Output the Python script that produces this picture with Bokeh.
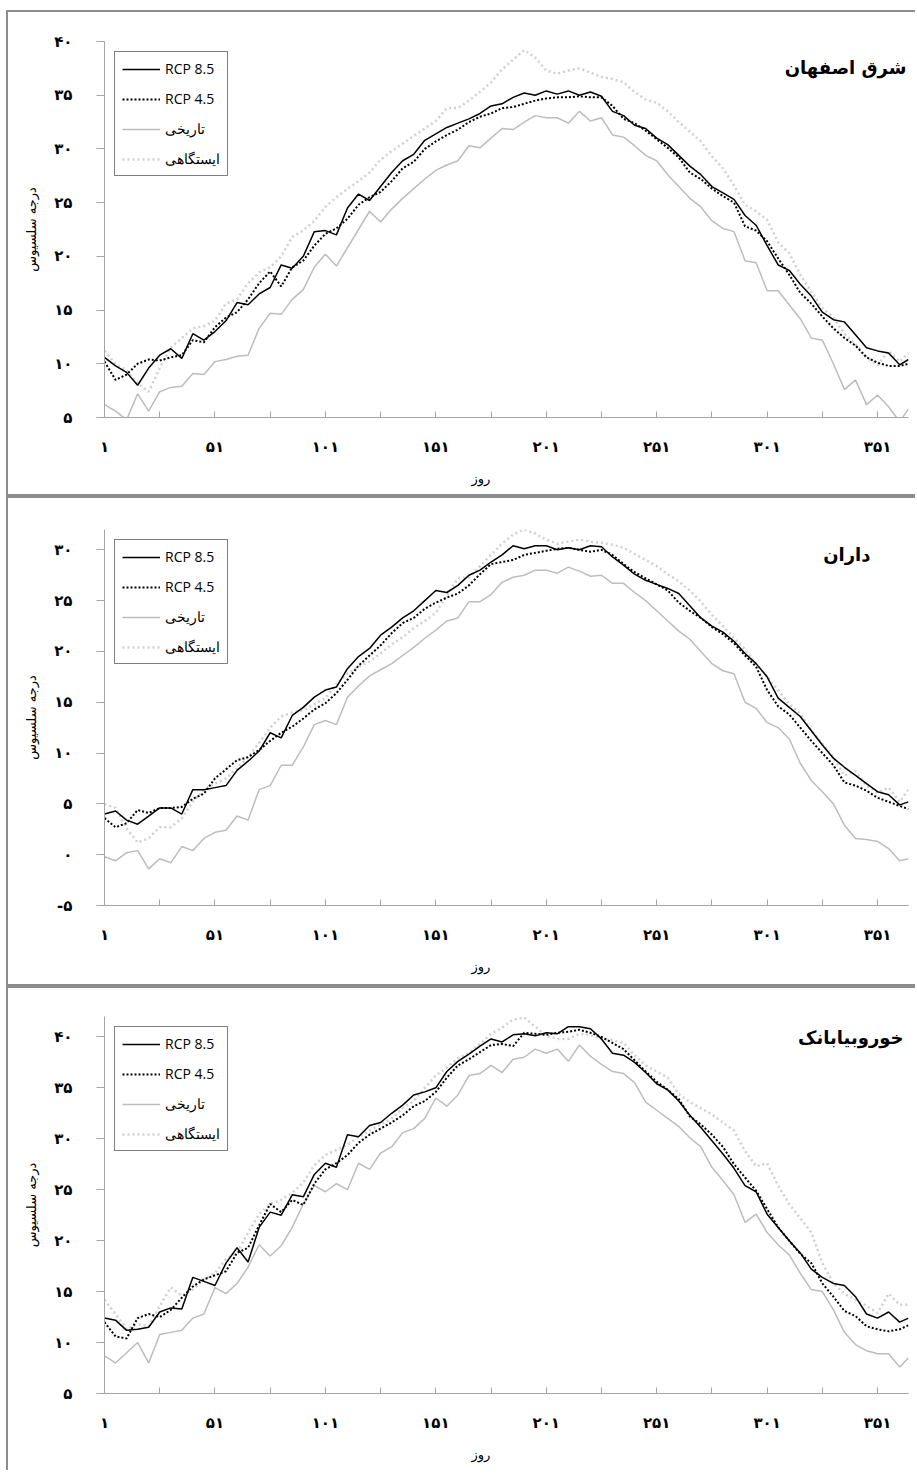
from bokeh.plotting import figure
from bokeh.layouts import column, row
from bokeh.models import (FixedTicker, Legend, LegendItem, Label, Title, Spacer)
from bokeh.embed import file_html
from bokeh.resources import INLINE

# ---------------- data ----------------
days = [1, 6, 11, 16, 21, 26, 31, 36, 41, 46, 51, 56, 61, 66, 71, 76, 81, 86, 91, 96,
        101, 106, 111, 116, 121, 126, 131, 136, 141, 146, 151, 156, 161, 166, 171, 176,
        181, 186, 191, 196, 201, 206, 211, 216, 221, 226, 231, 236, 241, 246, 251, 256,
        261, 266, 271, 276, 281, 286, 291, 296, 301, 306, 311, 316, 321, 326, 331, 336,
        341, 346, 351, 356, 361, 365]

series_names = ["RCP 8.5", "RCP 4.5", "تاریخی", "ایستگاهی"]
station_names = ["شرق اصفهان", "داران", "خوروبیابانک"]

# --- شرق اصفهان ---
isf_rcp85 = [10.6, 9.8, 9.2, 8.0, 9.6, 10.8, 11.4, 10.5, 12.8, 12.2, 13.0, 14.0, 15.7, 15.5, 16.5,
             17.1, 19.2, 18.9, 20.0, 22.3, 22.4, 22.0, 24.5, 25.8, 25.2, 26.5, 27.8, 28.9, 29.5,
             30.8, 31.4, 32.0, 32.4, 32.8, 33.3, 34.0, 34.2, 34.8, 35.2, 35.0, 35.4, 35.1, 35.4,
             35.0, 35.3, 34.9, 33.5, 33.1, 32.2, 31.9, 31.0, 30.4, 29.4, 28.4, 27.6, 26.5, 25.9,
             25.3, 23.8, 22.9, 21.0, 19.2, 18.7, 17.4, 16.3, 14.8, 14.1, 13.9, 12.7, 11.5, 11.2,
             11.0, 9.9, 10.4]
isf_rcp45 = [10.2, 8.5, 9.0, 10.0, 10.4, 10.3, 10.6, 10.8, 12.2, 12.0, 13.4, 14.3, 14.8, 16.0, 17.5,
             18.6, 17.2, 19.0, 19.6, 21.0, 22.1, 22.6, 23.5, 24.8, 25.5, 26.0, 27.0, 28.2, 28.8,
             30.0, 30.7, 31.3, 31.8, 32.5, 33.0, 33.3, 33.8, 33.9, 34.2, 34.5, 34.7, 34.8, 34.8,
             34.9, 34.8, 34.8, 34.0, 32.8, 32.4, 31.7, 30.9, 30.1, 29.2, 27.8, 27.2, 26.3, 25.6,
             25.0, 22.8, 22.4, 21.4, 19.8, 18.3, 16.6, 15.6, 14.4, 13.3, 12.4, 11.7, 10.6, 10.1,
             9.8, 9.8, 10.0]
isf_hist = [6.2, 5.6, 4.8, 7.2, 5.6, 7.4, 7.8, 7.9, 9.1, 9.0, 10.2, 10.4, 10.7, 10.8, 13.3, 14.7,
            14.6, 16.0, 16.9, 19.0, 20.2, 19.1, 20.8, 22.5, 24.2, 23.2, 24.4, 25.4, 26.3, 27.2,
            28.0, 28.5, 28.9, 30.3, 30.1, 31.0, 31.9, 31.8, 32.5, 33.1, 32.9, 32.9, 32.4, 33.5,
            32.6, 32.9, 31.3, 31.1, 30.3, 29.4, 28.9, 27.6, 26.5, 25.4, 24.6, 23.3, 22.6, 22.3,
            19.6, 19.4, 16.8, 16.8, 15.5, 14.2, 12.4, 12.2, 10.0, 7.6, 8.5, 6.2, 7.1, 6.0, 4.6, 5.8]
isf_obs = [11.2, 10.0, 9.4, 8.2, 7.4, 9.6, 11.5, 12.4, 13.3, 13.5, 14.0, 15.6, 16.0, 17.5, 18.5,
           19.0, 20.0, 21.8, 22.4, 23.3, 24.6, 25.5, 26.3, 27.0, 27.8, 29.0, 29.8, 30.5, 31.2,
           31.9, 32.6, 33.8, 33.8, 34.5, 35.3, 36.2, 37.4, 38.3, 39.2, 38.5, 37.3, 37.0, 37.3,
           37.5, 37.1, 36.7, 36.5, 36.2, 35.3, 34.6, 34.3, 33.5, 32.5, 31.6, 30.7, 29.3, 28.2,
           26.6, 24.8, 24.2, 23.4, 21.3, 20.3, 18.3, 16.7, 15.2, 14.3, 12.8, 11.8, 10.6, 9.9,
           11.2, 10.2, 11.0]

# --- داران ---
dar_rcp85 = [4.0, 4.3, 3.4, 3.0, 3.8, 4.6, 4.6, 4.0, 6.4, 6.4, 6.6, 6.8, 8.3, 9.2, 10.2, 12.0,
             11.5, 13.7, 14.5, 15.5, 16.2, 16.5, 18.3, 19.5, 20.3, 21.6, 22.4, 23.3, 24.0, 25.0,
             26.0, 25.8, 26.5, 27.5, 28.0, 28.8, 29.5, 30.4, 30.1, 30.4, 30.4, 30.0, 30.2, 30.0,
             30.4, 30.3, 29.3, 28.5, 27.6, 27.0, 26.6, 26.2, 25.7, 24.5, 23.3, 22.5, 21.9, 21.0,
             19.8, 18.8, 17.5, 15.4, 14.5, 13.6, 12.2, 10.8, 9.5, 8.6, 7.8, 7.0, 6.2, 5.9, 4.9, 5.2]
dar_rcp45 = [3.6, 2.7, 3.1, 4.4, 4.1, 4.6, 4.6, 4.7, 5.5, 6.0, 7.5, 8.4, 9.3, 9.6, 10.3, 11.2,
             12.0, 12.6, 13.4, 14.3, 14.9, 15.9, 17.2, 18.6, 19.6, 20.6, 21.8, 22.8, 23.3, 24.2,
             24.8, 25.3, 25.7, 26.5, 27.6, 28.6, 28.8, 29.0, 29.5, 29.7, 29.9, 30.1, 30.2, 30.0,
             29.8, 30.0, 29.5, 28.6, 27.8, 27.2, 26.6, 26.0, 24.8, 24.0, 23.3, 22.4, 21.7, 20.8,
             19.6, 18.5, 16.2, 14.6, 13.8, 12.5, 11.2, 10.0, 8.8, 7.1, 6.8, 6.3, 5.6, 5.2, 4.8, 4.5]
dar_hist = [-0.2, -0.6, 0.2, 0.4, -1.4, -0.4, -0.8, 0.8, 0.4, 1.6, 2.2, 2.4, 3.8, 3.4, 6.4, 6.8,
            8.8, 8.8, 10.6, 12.8, 13.2, 12.8, 15.5, 16.6, 17.6, 18.2, 18.8, 19.6, 20.4, 21.3,
            22.1, 23.0, 23.3, 24.9, 24.9, 25.6, 26.8, 27.3, 27.5, 28.0, 28.0, 27.7, 28.3, 27.9,
            27.4, 27.5, 26.7, 26.7, 25.8, 25.0, 24.0, 23.0, 22.0, 21.2, 20.0, 18.8, 18.1, 17.8,
            15.0, 14.4, 13.0, 12.5, 11.4, 9.0, 7.3, 6.2, 5.0, 2.9, 1.6, 1.5, 1.3, 0.6, -0.6, -0.4]
dar_obs = [5.0, 4.6, 2.6, 1.2, 1.6, 2.7, 2.7, 3.6, 5.2, 6.4, 7.0, 7.5, 8.5, 9.6, 11.0, 12.5,
           13.6, 14.0, 14.2, 14.8, 15.4, 16.8, 17.8, 18.5, 19.0, 19.8, 20.7, 21.4, 22.3, 23.0,
           23.8, 25.5, 27.2, 27.3, 28.4, 29.5, 30.6, 31.5, 32.0, 31.6, 31.0, 30.6, 30.8, 31.0,
           30.8, 30.7, 30.5, 30.2, 29.6, 29.0, 28.4, 27.6, 26.9, 26.0, 24.9, 23.6, 22.5, 21.3,
           20.2, 18.8, 17.5, 16.2, 14.8, 13.9, 12.2, 10.9, 9.6, 7.8, 8.2, 6.8, 6.1, 6.6, 5.2, 6.4]

# --- خوروبیابانک ---
kho_rcp85 = [12.4, 12.2, 11.2, 11.3, 11.5, 13.0, 13.4, 13.3, 16.4, 16.0, 15.6, 17.8, 19.3, 17.9,
             21.3, 22.8, 22.5, 24.5, 24.3, 26.5, 27.6, 27.2, 30.4, 30.2, 31.3, 31.6, 32.5, 33.3,
             34.3, 34.6, 35.0, 36.6, 37.6, 38.3, 39.1, 39.8, 39.5, 40.2, 40.3, 40.1, 40.4, 40.3,
             41.0, 41.0, 40.8, 39.8, 38.4, 38.2, 37.5, 36.5, 35.4, 34.8, 33.7, 32.3, 31.1, 29.8,
             28.5, 27.1, 25.4, 24.8, 22.6, 21.3, 20.0, 18.8, 17.2, 16.4, 15.8, 15.6, 14.5, 12.8,
             12.4, 13.0, 12.0, 12.4]
kho_rcp45 = [12.0, 10.6, 10.4, 12.4, 12.8, 12.5, 13.2, 14.4, 15.5, 16.2, 16.6, 17.0, 18.8, 19.3,
             21.5, 23.6, 22.8, 24.0, 23.5, 25.6, 27.0, 27.6, 28.4, 29.6, 30.4, 31.0, 31.6, 32.3,
             33.2, 33.7, 34.6, 36.0, 37.2, 37.8, 38.5, 39.2, 39.3, 39.1, 40.4, 40.3, 40.2, 40.4,
             40.5, 40.7, 40.4, 40.0, 39.4, 38.8, 37.7, 36.6, 35.6, 34.8, 33.9, 32.2, 31.4, 30.4,
             29.2, 27.5, 26.2, 24.9, 23.1, 21.3, 20.0, 18.7, 17.8, 15.8, 14.5, 13.1, 12.6, 11.6,
             11.3, 11.1, 11.3, 11.7]
kho_hist = [8.7, 8.0, 9.0, 10.0, 8.0, 10.8, 11.0, 11.2, 12.4, 12.8, 15.4, 14.8, 15.8, 17.4, 19.6,
            18.5, 19.5, 21.3, 23.6, 25.4, 24.8, 25.6, 25.0, 27.6, 27.0, 28.6, 29.2, 30.6, 31.0,
            32.0, 34.0, 33.2, 34.3, 36.2, 36.4, 37.2, 36.5, 37.8, 38.0, 38.8, 38.4, 38.8, 37.6,
            39.2, 38.1, 37.3, 36.6, 36.4, 35.5, 33.6, 32.8, 32.0, 31.2, 30.1, 29.2, 27.2, 25.9,
            24.5, 21.8, 22.6, 20.8, 19.6, 18.6, 16.8, 15.2, 15.0, 13.2, 11.0, 9.8, 9.2, 8.9, 8.9,
            7.6, 8.5]
kho_obs = [14.2, 12.8, 11.3, 11.8, 11.6, 13.6, 15.4, 14.6, 15.2, 16.2, 16.8, 18.2, 18.8, 20.8,
           22.6, 23.6, 24.0, 24.7, 25.7, 27.4, 28.4, 28.9, 29.4, 30.2, 30.8, 31.4, 32.0, 33.0,
           33.7, 35.0, 36.2, 37.0, 37.9, 38.4, 39.3, 40.3, 40.9, 41.7, 41.9, 41.0, 40.1, 39.8,
           39.8, 40.3, 40.2, 39.8, 39.7, 39.4, 38.2, 37.2, 36.6, 36.0, 34.4, 33.6, 33.0, 32.4,
           31.6, 30.8, 28.8, 27.3, 27.6, 25.4, 23.6, 22.2, 20.8, 17.8, 15.8, 14.8, 14.2, 13.6,
           12.9, 14.8, 13.7, 13.7]

x_tick_days = [1, 26, 51, 76, 101, 126, 151, 176, 201, 226, 251, 276, 301, 326, 351]
x_labeled_days = [1, 51, 101, 151, 201, 251, 301, 351]
yticks_isf = [5, 10, 15, 20, 25, 30, 35, 40]
yticks_dar = [-5, 0, 5, 10, 15, 20, 25, 30]
yticks_kho = [5, 10, 15, 20, 25, 30, 35, 40]

y_title = "درجه سلسیوس"
x_title = "روز"

# ---------------- helpers ----------------
FA = str.maketrans("0123456789", "۰۱۲۳۴۵۶۷۸۹")


def fa(n):
    return str(n).translate(FA)


AXIS_GRAY = "#a6a6a6"
BORDER = "#8c8c8c"
FONT = "DejaVu Sans"
BSTYLE = "2px solid " + BORDER


def make_panel(name, data, ylo, yhi, yticks, height, mtop, mbottom,
               title_dx, title_dy, styles):
    p = figure(width=909, height=height, x_range=(1, 365), y_range=(ylo, yhi),
               output_backend="svg", toolbar_location=None, title=None,
               min_border_left=96, min_border_right=9,
               min_border_top=mtop, min_border_bottom=mbottom,
               background_fill_color="white", border_fill_color="white")
    p.styles = styles
    p.outline_line_color = None
    p.xgrid.visible = False
    p.ygrid.visible = False

    # x axis
    xa = p.xaxis[0]
    xa.ticker = FixedTicker(ticks=x_tick_days)
    xa.major_label_overrides = {d: (fa(d) if d in x_labeled_days else "") for d in x_tick_days}
    xa.axis_line_color = AXIS_GRAY
    xa.major_tick_line_color = AXIS_GRAY
    xa.major_tick_in = 6
    xa.major_tick_out = 0
    xa.minor_tick_line_color = None
    xa.major_label_standoff = 20
    xa.major_label_text_font = FONT
    xa.major_label_text_font_size = "15px"
    xa.major_label_text_font_style = "bold"
    xa.major_label_text_color = "black"

    # y axis
    ya = p.yaxis[0]
    ya.ticker = FixedTicker(ticks=yticks)
    ya.major_label_overrides = {t: ("-" + fa(-t) if t < 0 else fa(t)) for t in yticks}
    ya.axis_line_color = AXIS_GRAY
    ya.major_tick_line_color = AXIS_GRAY
    ya.major_tick_in = 0
    ya.major_tick_out = 8
    ya.minor_tick_line_color = None
    ya.major_label_standoff = 24
    ya.major_label_text_font = FONT
    ya.major_label_text_font_size = "15px"
    ya.major_label_text_font_style = "bold"
    ya.major_label_text_color = "black"
    ya.axis_label = y_title
    ya.axis_label_text_font = FONT
    ya.axis_label_text_font_style = "normal"
    ya.axis_label_text_font_size = "13px"
    ya.axis_label_text_color = "black"
    ya.axis_label_standoff = 12

    rcp85, rcp45, hist, obs = data
    r_obs = p.line(days, obs, line_color="#d0d0d0", line_width=2.5, line_dash="2 3")
    r_hist = p.line(days, hist, line_color="#bdbdbd", line_width=1.5)
    r45 = p.line(days, rcp45, line_color="black", line_width=2, line_dash="2 2")
    r85 = p.line(days, rcp85, line_color="black", line_width=1.5)

    legend = Legend(items=[LegendItem(label=series_names[0], renderers=[r85]),
                           LegendItem(label=series_names[1], renderers=[r45]),
                           LegendItem(label=series_names[2], renderers=[r_hist]),
                           LegendItem(label=series_names[3], renderers=[r_obs])],
                    location="top_left", margin=10, padding=7, spacing=11,
                    glyph_width=38, glyph_height=16, label_height=16, label_standoff=5,
                    border_line_color="black", border_line_width=1,
                    background_fill_color="white", background_fill_alpha=1,
                    label_text_font="Open Sans", label_text_font_size="14px",
                    label_text_color="black")
    p.add_layout(legend)

    p.add_layout(Label(x=365, y=yhi, x_offset=title_dx, y_offset=title_dy, text=name,
                       text_font=FONT, text_font_style="bold", text_font_size="18px",
                       text_align="right", text_baseline="middle", text_color="black"))

    p.add_layout(Title(text=x_title, align="left", offset=367, standoff=20,
                       text_font=FONT, text_font_style="normal", text_font_size="13px",
                       text_color="black"),
                 "below")
    return p


p1 = make_panel(station_names[0], (isf_rcp85, isf_rcp45, isf_hist, isf_obs), 5, 40, yticks_isf,
                486, 29, 81, -2, -26,
                {"border-top": BSTYLE, "border-left": BSTYLE, "border-bottom": BSTYLE})
p2 = make_panel(station_names[1], (dar_rcp85, dar_rcp45, dar_hist, dar_obs), -5, 32, yticks_dar,
                490, 31, 83, -38, -25,
                {"border-top": BSTYLE, "border-left": BSTYLE, "border-bottom": BSTYLE})
p3 = make_panel(station_names[2], (kho_rcp85, kho_rcp45, kho_hist, kho_obs), 5, 42, yticks_kho,
                484, 28, 79, -5, -21,
                {"border-top": BSTYLE, "border-left": BSTYLE})

layout = row(Spacer(width=6, height=10),
             column(Spacer(width=10, height=10), p1, p2, p3, spacing=0),
             spacing=0)
open("out.html", "w").write(file_html(layout, INLINE))
